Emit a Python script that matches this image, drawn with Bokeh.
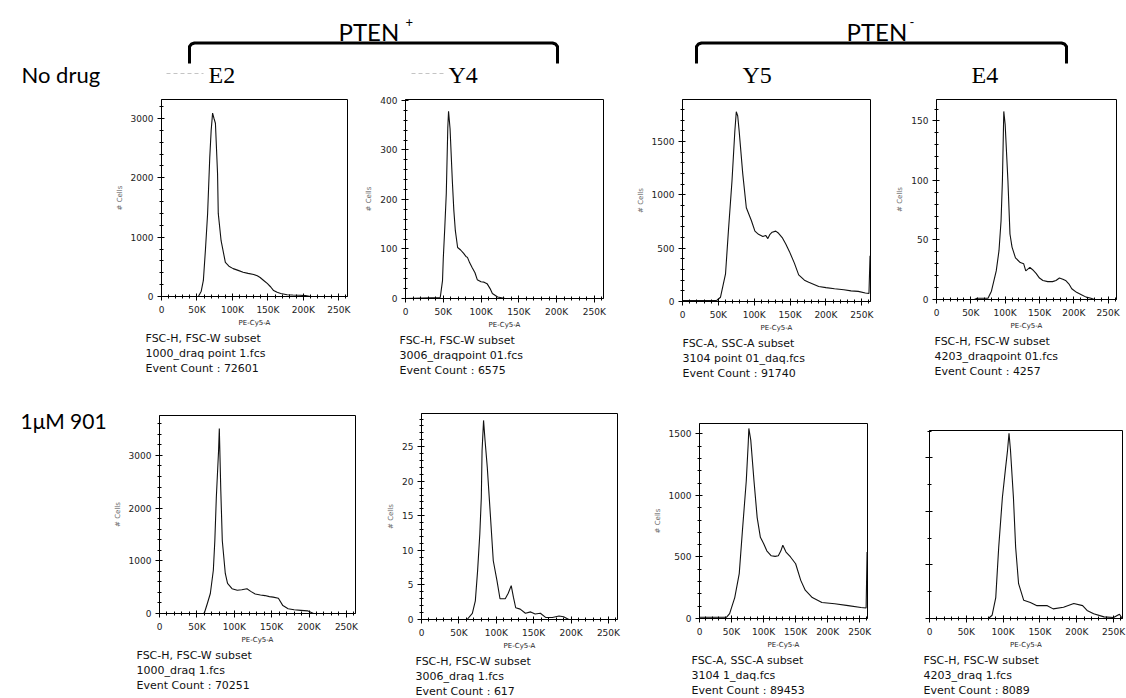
from bokeh.plotting import figure
from bokeh.models import Range1d, SingleIntervalTicker, CustomJSTickFormatter, Title, Spacer
from bokeh.layouts import row, column
from bokeh.core.properties import value
from bokeh.embed import file_html
from bokeh.resources import INLINE

# ---------------- data (x in thousands of PE-Cy5-A units, y = # cells) ----------------
e2_nodrug_x = [0, 45, 52, 56, 59, 62, 65, 68, 70, 72, 74, 76, 79, 80, 84, 90, 95, 101, 108, 115, 122, 130, 135, 139, 144, 149, 154, 158, 163, 168, 177, 185, 195, 203, 210, 262]
e2_nodrug_y = [0, 0, 0, 90, 270, 800, 1400, 2340, 2800, 3090, 3000, 2920, 2070, 1400, 940, 575, 510, 470, 440, 410, 390, 370, 350, 320, 270, 220, 160, 100, 70, 50, 30, 25, 20, 15, 0, 0]

y4_nodrug_x = [0, 46, 49, 50, 52, 54, 56, 57, 59, 62, 64, 66, 69, 73, 77, 80, 82, 85, 88, 92, 95, 100, 104, 108, 112, 115, 122, 132, 262]
y4_nodrug_y = [0, 2, 36, 80, 143, 212, 345, 378, 343, 238, 178, 137, 103, 98, 91, 85, 83, 72, 63, 52, 38, 34, 33, 30, 20, 10, 3, 0, 0]

y5_nodrug_x = [0, 45, 48, 53, 60, 64, 69, 73, 75, 77, 79, 84, 89, 96, 101, 106, 112, 116, 119, 122, 125, 130, 134, 139, 144, 149, 156, 162, 170, 176, 190, 200, 212, 225, 235, 245, 255, 260, 261.5]
y5_nodrug_y = [8, 8, 12, 40, 260, 660, 1130, 1600, 1780, 1740, 1600, 1200, 880, 760, 660, 630, 610, 620, 590, 630, 650, 660, 640, 600, 540, 470, 360, 250, 200, 180, 140, 130, 120, 110, 100, 95, 80, 75, 430]

e4_nodrug_x = [0, 55, 59, 75, 80, 87, 91, 94, 96, 98, 100, 104, 107, 110, 115, 122, 127, 130, 136, 140, 145, 150, 155, 162, 169, 174, 179, 184, 188, 193, 197, 204, 211, 218, 225, 230, 262]
e4_nodrug_y = [0, 0, 1, 1, 7, 24, 41, 66, 100, 158, 147, 100, 55, 44, 35, 31, 30, 24, 27, 25, 22, 18, 16, 15, 15, 16, 18, 17, 16, 13, 9, 6, 4, 2, 1, 0, 0]

e2_drug_x = [0, 58, 60, 64, 68, 72, 74, 76, 79, 80, 82, 84, 88, 91, 97, 104, 110, 117, 122, 128, 135, 141, 147, 152, 159, 165, 172, 180, 189, 198, 206, 262]
e2_drug_y = [0, 0, 10, 190, 380, 820, 1380, 2200, 3090, 3510, 2330, 1380, 760, 570, 470, 440, 450, 470, 420, 370, 350, 340, 320, 310, 290, 150, 90, 70, 60, 50, 0, 0]

y4_drug_x = [0, 61, 68, 72, 75, 78, 80, 81, 83, 85, 88, 92, 96, 101, 105, 112, 116, 120, 123, 126, 132, 139, 146, 152, 159, 166, 175, 184, 190, 197, 262]
y4_drug_y = [0, 0, 0.9, 2.7, 7, 12.4, 17.6, 24.4, 28.8, 25.9, 22, 15.3, 8.5, 5.6, 3, 3, 3.8, 4.9, 3.2, 1.7, 1.5, 0.9, 1.1, 0.8, 0.9, 0.3, 0.3, 0.5, 0.4, 0, 0]

y5_drug_x = [0, 42, 47, 55, 62, 67, 73, 76, 77, 80, 85, 90, 95, 100, 105, 112, 118, 123, 127, 130, 135, 142, 150, 158, 165, 176, 191, 211, 232, 252, 260, 261.5]
y5_drug_y = [10, 10, 40, 170, 365, 715, 1120, 1420, 1545, 1450, 1120, 820, 660, 610, 550, 510, 505, 510, 550, 595, 540, 500, 445, 310, 230, 170, 130, 120, 105, 90, 85, 540]

e4_drug_x = [0, 80, 85, 90, 94, 99, 103, 106, 108, 110, 114, 117, 121, 128, 137, 146, 160, 168, 182, 196, 208, 214, 223, 237, 250, 258, 262]
e4_drug_y = [0, 0, 6, 39, 133, 226, 277, 314, 346, 314, 226, 133, 65, 34, 30, 24, 24, 18, 21, 28, 24, 15, 9, 3, 2, 8, 0]

x_axis_max = 262.144
x_axis_title = "PE-Cy5-A"
y_axis_title = "# Cells"

row_labels = ["No drug", "1μM 901"]
group_labels = ["PTEN", "PTEN"]
group_signs = ["+", "-"]
line_labels = ["E2", "Y4", "Y5", "E4"]

info_texts = {
    "e2_nodrug": ["FSC-H, FSC-W subset", "1000_draq point 1.fcs", "Event Count : 72601"],
    "y4_nodrug": ["FSC-H, FSC-W subset", "3006_draqpoint 01.fcs", "Event Count : 6575"],
    "y5_nodrug": ["FSC-A, SSC-A subset", "3104 point 01_daq.fcs", "Event Count : 91740"],
    "e4_nodrug": ["FSC-H, FSC-W subset", "4203_draqpoint 01.fcs", "Event Count : 4257"],
    "e2_drug": ["FSC-H, FSC-W subset", "1000_draq 1.fcs", "Event Count : 70251"],
    "y4_drug": ["FSC-H, FSC-W subset", "3006_draq 1.fcs", "Event Count : 617"],
    "y5_drug": ["FSC-A, SSC-A subset", "3104 1_daq.fcs", "Event Count : 89453"],
    "e4_drug": ["FSC-H, FSC-W subset", "4203_draq 1.fcs", "Event Count : 8089"],
}

# ---------------- layout / styling ----------------
TICK_FONT = "DejaVu Sans"
HEAD_FONT = "Lato"
SERIF = "Liberation Serif"


def panel(x, y, ymax, yint, texts, L, W, R, T, H, B, offset, ylabels=True, yminor=5):
    p = figure(width=L + W + R, height=T + H + B,
               x_range=Range1d(0, x_axis_max), y_range=Range1d(0, ymax),
               output_backend="svg", toolbar_location=None, title=None,
               min_border_left=L, min_border_right=R, min_border_top=T, min_border_bottom=B)
    p.frame_align = False
    p.grid.visible = False
    p.outline_line_color = "black"
    p.outline_line_width = 1
    p.line(x, y, line_color="#111111", line_width=1.1)

    xa = p.xaxis[0]
    xa.ticker = SingleIntervalTicker(interval=50, num_minor_ticks=5)
    xa.formatter = CustomJSTickFormatter(code="return tick == 0 ? '0' : tick.toFixed(0) + 'K';")
    xa.axis_label = x_axis_title
    xa.axis_label_text_font = TICK_FONT
    xa.axis_label_text_font_size = "7px"
    xa.axis_label_text_font_style = "normal"
    xa.axis_label_text_color = "#222222"
    xa.axis_label_standoff = 1
    xa.major_label_text_font = TICK_FONT
    xa.major_label_text_font_size = "9px"
    xa.major_label_text_color = "#222222"
    xa.major_label_standoff = 4

    ya = p.yaxis[0]
    ya.ticker = SingleIntervalTicker(interval=yint, num_minor_ticks=yminor)
    if ylabels:
        ya.axis_label = y_axis_title
        ya.axis_label_text_font = TICK_FONT
        ya.axis_label_text_font_size = "7px"
        ya.axis_label_text_font_style = "normal"
        ya.axis_label_text_color = "#666666"
        ya.axis_label_standoff = 4
    else:
        ya.formatter = CustomJSTickFormatter(code="return '';")
    ya.major_label_text_font = TICK_FONT
    ya.major_label_text_font_size = "9px"
    ya.major_label_text_color = "#222222"
    ya.major_label_standoff = 4

    for ax in (xa, ya):
        ax.axis_line_color = "black"
        ax.major_tick_line_color = "black"
        ax.minor_tick_line_color = "black"
        ax.major_tick_in = 3
        ax.major_tick_out = 4
        ax.minor_tick_in = 2
        ax.minor_tick_out = 2

    for t in texts:
        p.add_layout(Title(text=t, align="left", offset=offset, text_font=TICK_FONT,
                           text_font_size="11px", text_font_style="normal",
                           text_color="#111111", standoff=0), "below")
    return p


HH = 90          # header height
ROW1 = 298       # row 1 height
ROW2 = 310       # row 2 height
LABW = 110       # width of row-label column

# Row 1 (no drug): frame tops at y=99
r1 = [
    panel(e2_nodrug_x, e2_nodrug_y, 3320, 1000, info_texts["e2_nodrug"], 51, 186, 15, 9, 197, ROW1 - 9 - 197, -16),
    panel(y4_nodrug_x, y4_nodrug_y, 402, 100, info_texts["y4_nodrug"], 43, 198, 30, 9, 199, ROW1 - 9 - 199, -6),
    panel(y5_nodrug_x, y5_nodrug_y, 1895, 500, info_texts["y5_nodrug"], 45, 192, 23, 9, 202, ROW1 - 9 - 202, 0),
    panel(e4_nodrug_x, e4_nodrug_y, 168, 50, info_texts["e4_nodrug"], 37, 186, 10, 9, 200, ROW1 - 9 - 200, -2),
]

# Row 2 (1 uM 901): row starts at y=388
r2 = [
    panel(e2_drug_x, e2_drug_y, 3757, 1000, info_texts["e2_drug"], 47, 198, 25, 27, 198, ROW2 - 27 - 198, -23),
    panel(y4_drug_x, y4_drug_y, 29.8, 5, info_texts["y4_drug"], 41, 196, 33, 25, 206, ROW2 - 25 - 206, -6),
    panel(y5_drug_x, y5_drug_y, 1585, 500, info_texts["y5_drug"], 44, 173, 28, 35, 195, ROW2 - 35 - 195, -8),
    panel(e4_drug_x, e4_drug_y, 351, 100, info_texts["e4_drug"], 34, 193, 4, 42, 188, ROW2 - 42 - 188, -6,
          ylabels=False, yminor=2),
]

# Header
HW = 1126
hdr = figure(width=HW, height=HH, x_range=Range1d(0, HW), y_range=Range1d(HH, 0),
             output_backend="svg", toolbar_location=None, title=None, min_border=0,
             x_axis_type=None, y_axis_type=None, outline_line_color=None)
hdr.frame_align = False
hdr.grid.visible = False

hdr.text(x=[21], y=[74], text=[row_labels[0]], text_font=value(HEAD_FONT), text_font_size="22px",
         text_baseline="middle", text_align="left", text_color="black")
hdr.text(x=[338, 846], y=[31, 31], text=group_labels, text_font=value(HEAD_FONT), text_font_size="24px",
         text_baseline="middle", text_align="left", text_color="black")
hdr.text(x=[405, 909], y=[21, 21], text=group_signs, text_font=value(HEAD_FONT), text_font_size="13px",
         text_baseline="middle", text_align="left", text_color="black")
hdr.text(x=[208, 448, 742, 971], y=[74, 74, 74, 74], text=line_labels, text_font=value(SERIF),
         text_font_size="24px", text_baseline="middle", text_align="left", text_color="black")

for (a, b) in [(189, 557), (696, 1066)]:
    hdr.line([a, a, a + 2, a + 5, b - 5, b - 2, b, b], [63, 46, 43.5, 42.5, 42.5, 43.5, 46, 63],
             line_color="black", line_width=3, line_join="round")
for (a, b) in [(166, 203), (411, 446)]:
    hdr.line([a, b], [73, 73], line_color="#c4c4c4", line_width=1.2, line_dash="4 3")

# Row-2 label column
lab2 = figure(width=LABW, height=ROW2, x_range=Range1d(0, LABW), y_range=Range1d(ROW2, 0),
              output_backend="svg", toolbar_location=None, title=None, min_border=0,
              x_axis_type=None, y_axis_type=None, outline_line_color=None)
lab2.frame_align = False
lab2.grid.visible = False
lab2.text(x=[20], y=[32], text=[row_labels[1]], text_font=value(HEAD_FONT), text_font_size="21px",
          text_baseline="middle", text_align="left", text_color="black")

layout = column(hdr,
                row(Spacer(width=LABW, height=ROW1), *r1),
                row(lab2, *r2))

open("out.html", "w").write(file_html(layout, INLINE, "PTEN histograms"))
